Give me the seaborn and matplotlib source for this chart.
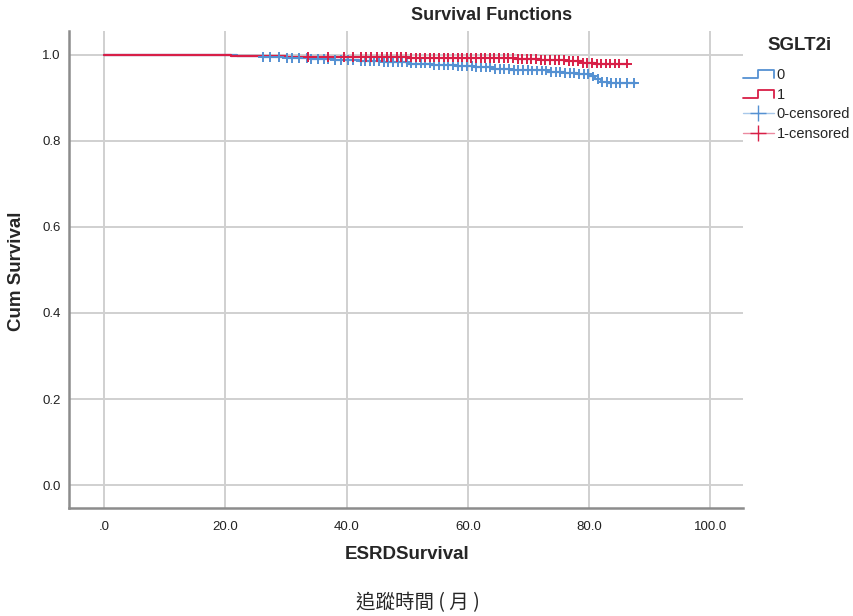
#!/usr/bin/env python3
"""
Kaplan-Meier survival functions by SGLT2i use (ESRD outcome).
"""

import numpy as np
import pandas as pd
import matplotlib
matplotlib.use("Agg")
import matplotlib.pyplot as plt
import seaborn as sns
from matplotlib.lines import Line2D
from matplotlib.legend_handler import HandlerBase

# ---- data ----
# step curve, group 0 (no SGLT2i)
times_0 = [0, 8, 16, 22, 26, 30, 34, 38, 42, 46, 50, 54, 58, 61, 64, 67, 70,
           73, 76, 78, 80, 81, 82, 83, 87.7]
surv_0 = [1.000, 0.9995, 0.999, 0.997, 0.995, 0.993, 0.991, 0.988, 0.986,
          0.983, 0.980, 0.977, 0.974, 0.971, 0.968, 0.966, 0.964, 0.961,
          0.958, 0.955, 0.950, 0.944, 0.938, 0.934, 0.934]
# step curve, group 1 (SGLT2i)
times_1 = [0, 21, 30, 40, 50, 60, 68, 72, 76, 79, 81, 86.2]
surv_1 = [1.000, 0.997, 0.996, 0.995, 0.994, 0.993, 0.991, 0.989, 0.986,
          0.982, 0.980, 0.980]

# censored observation times
cens_0 = [26.2, 27.4, 28.9, 30.1, 31.0, 32.2, 33.5, 34.1, 35.3, 36.2, 37.0,
          38.1, 39.0, 40.2, 41.1, 42.3, 43.0, 43.8, 44.6, 45.3, 46.1, 46.9,
          47.6, 48.4, 49.2, 49.9, 50.7, 51.5, 52.2, 53.0, 53.8, 54.5, 55.3,
          56.1, 56.8, 57.6, 58.4, 59.1, 59.9, 60.7, 61.4, 62.2, 63.0, 63.7,
          64.5, 65.3, 66.0, 66.8, 67.6, 68.3, 69.1, 69.9, 70.6, 71.4, 72.2,
          72.9, 73.7, 74.5, 75.2, 76.0, 76.8, 77.5, 78.3, 79.1, 79.8, 80.6,
          81.4, 82.1, 82.9, 83.6, 84.4, 85.1, 86.3, 87.5]
cens_1 = [33.6, 36.9, 39.5, 41.0, 42.4, 43.2, 44.1, 45.0, 45.9, 46.6, 47.4,
          48.3, 49.0, 49.8, 50.6, 51.4, 52.1, 52.9, 53.7, 54.4, 55.2, 56.0,
          56.7, 57.5, 58.3, 59.0, 59.8, 60.6, 61.3, 62.1, 62.9, 63.6, 64.4,
          65.2, 65.9, 66.7, 67.5, 68.2, 69.0, 69.8, 70.5, 71.3, 72.1, 72.8,
          73.6, 74.4, 75.1, 75.9, 76.7, 77.4, 78.2, 79.0, 79.7, 80.5, 81.3,
          82.0, 82.8, 83.5, 84.3, 85.0, 86.2]

x_ticks = [0, 20, 40, 60, 80, 100]
x_tick_labels = [".0", "20.0", "40.0", "60.0", "80.0", "100.0"]
y_ticks = [0.0, 0.2, 0.4, 0.6, 0.8, 1.0]
y_tick_labels = ["0.0", "0.2", "0.4", "0.6", "0.8", "1.0"]

BLUE = "#5591d2"
RED = "#d81f47"

sns.set_style("white")
plt.rcParams['font.family'] = ['Liberation Sans', 'DejaVu Sans']


def surv_at(t, times, surv):
    """Value of a step-post survival curve at time t."""
    idx = np.searchsorted(times, t, side='right') - 1
    return np.asarray(surv)[idx]


curves = pd.concat([
    pd.DataFrame({'time': times_0, 'surv': surv_0, 'group': '0'}),
    pd.DataFrame({'time': times_1, 'surv': surv_1, 'group': '1'}),
])
censored = pd.concat([
    pd.DataFrame({'time': cens_0, 'surv': surv_at(cens_0, times_0, surv_0),
                  'group': '0'}),
    pd.DataFrame({'time': cens_1, 'surv': surv_at(cens_1, times_1, surv_1),
                  'group': '1'}),
])
palette = {'0': BLUE, '1': RED}


class StepHandler(HandlerBase):
    """Legend icon shaped like a small step."""
    def create_artists(self, legend, orig_handle, xdescent, ydescent,
                       width, height, fontsize, trans):
        x0, x1 = -xdescent, -xdescent + width
        xm = x0 + width * 0.5
        y0, y1 = -ydescent + height * 0.1, -ydescent + height * 0.85
        line = Line2D([x0, xm, xm, x1, x1], [y0, y0, y1, y1, y0],
                      color=orig_handle.get_color(), lw=1.3)
        line.set_transform(trans)
        return [line]


fig = plt.figure(figsize=(8.54, 6.16), dpi=100)
ax = fig.add_axes([0.0808, 0.1753, 0.7892, 0.7744])

sns.lineplot(data=curves, x='time', y='surv', hue='group', palette=palette,
             drawstyle='steps-post', estimator=None, lw=1.6, legend=False,
             ax=ax)
sns.scatterplot(data=censored, x='time', y='surv', hue='group',
                palette=palette, marker='+', s=50, linewidth=1.4,
                legend=False, ax=ax, zorder=3)

ax.set_xlim(-5.8, 105.4)
ax.set_ylim(-0.0535, 1.0558)
ax.set_xticks(x_ticks)
ax.set_xticklabels(x_tick_labels)
ax.set_yticks(y_ticks)
ax.set_yticklabels(y_tick_labels)
ax.tick_params(axis='x', length=0, labelsize=9.5, pad=9, colors='#222222')
ax.tick_params(axis='y', length=0, labelsize=9.5, pad=6, colors='#222222')
ax.grid(True, color='#d0d0d0', lw=1.4)
ax.set_axisbelow(True)
for side in ['top', 'right']:
    ax.spines[side].set_visible(False)
for side in ['left', 'bottom']:
    ax.spines[side].set_color('#8c8c8c')
    ax.spines[side].set_linewidth(1.8)

ax.set_xlabel('ESRDSurvival', fontsize=13.5, fontweight='bold')
ax.xaxis.set_label_coords(0.5015, -0.079)
ax.set_ylabel('Cum Survival', fontsize=13.5, fontweight='bold')
ax.yaxis.set_label_coords(-0.066, 0.497)

fig.text(492 / 854, 1 - 16 / 616, 'Survival Functions', ha='center',
         va='center', fontsize=13, fontweight='bold')
fig.text(800 / 854, 1 - 46 / 616, 'SGLT2i', ha='center', va='center',
         fontsize=13.5, fontweight='bold')

h0 = Line2D([], [], color=BLUE)
h1 = Line2D([], [], color=RED)
h0c = Line2D([], [], color='#a8c8ea', marker='+', markersize=12,
             markeredgecolor=BLUE, lw=1.0)
h1c = Line2D([], [], color='#eb8aa0', marker='+', markersize=12,
             markeredgecolor=RED, lw=1.0)
leg = fig.legend([h0, h1, h0c, h1c], ['0', '1', '0-censored', '1-censored'],
                 handler_map={h0: StepHandler(), h1: StepHandler()},
                 loc='upper left', bbox_to_anchor=(743 / 854, 1 - 68 / 616),
                 frameon=False, fontsize=10.5, handlelength=2.1,
                 handletextpad=0.2, labelspacing=0.39, borderpad=0,
                 borderaxespad=0)

fig.text(418 / 854, 1 - 603 / 616, '追蹤時間 ( 月 )', ha='center', va='center',
         fontsize=14, family=['Noto Sans CJK TC', 'DejaVu Sans'])

fig.savefig('out.png', dpi=100)
